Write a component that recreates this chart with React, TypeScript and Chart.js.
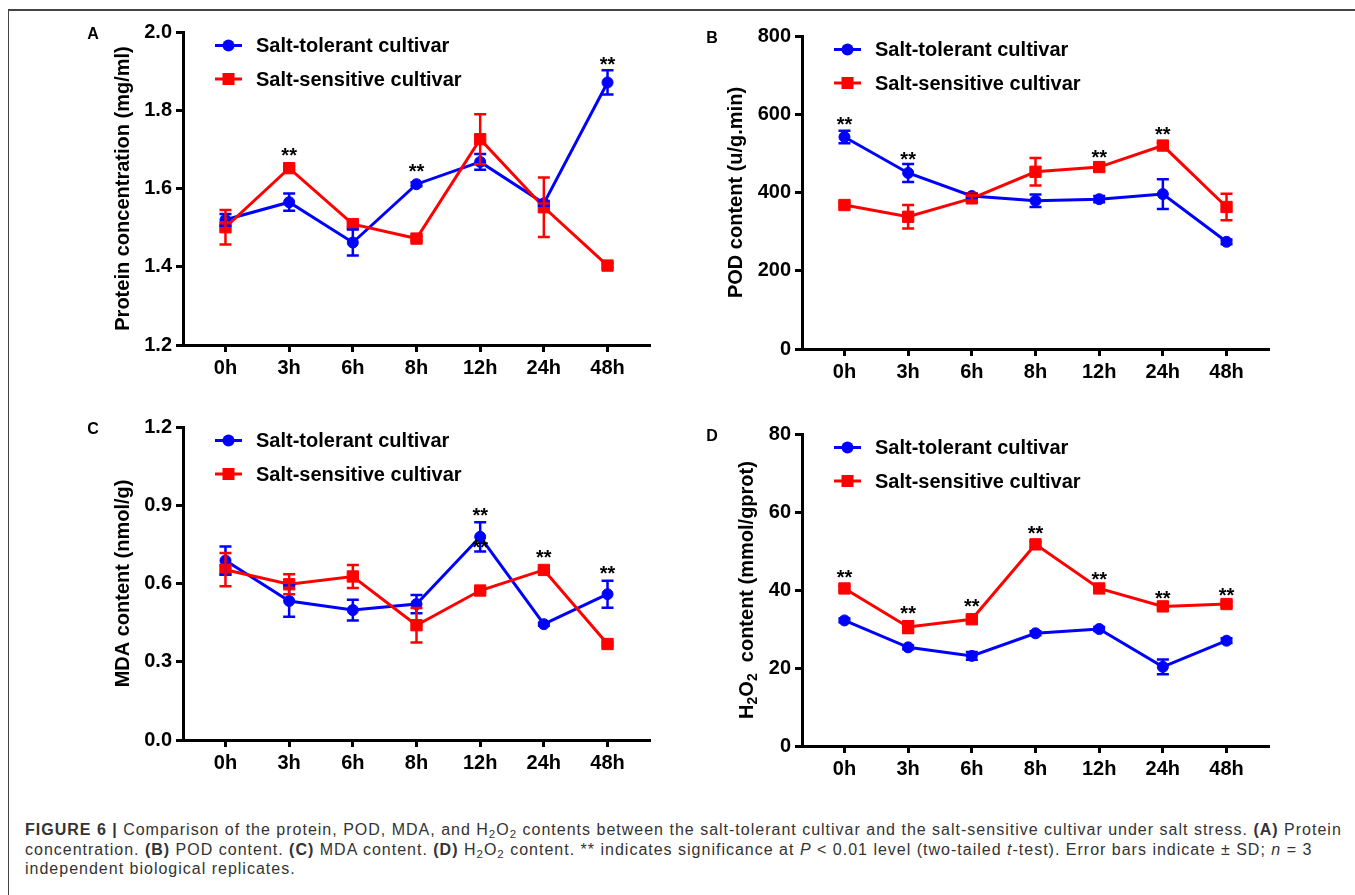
import React, { useEffect, useRef } from 'react';
import { Chart, registerables } from 'chart.js';

Chart.register(...registerables);

// ---------- data ----------
const timeLabels = ['0h', '3h', '6h', '8h', '12h', '24h', '48h'];
const seriesNames = ['Salt-tolerant cultivar', 'Salt-sensitive cultivar'];

// (A) Protein concentration (mg/ml)
const proteinTolerant = [1.52, 1.565, 1.462, 1.611, 1.668, 1.562, 1.871];
const proteinTolerantSD = [0.015, 0.022, 0.033, 0.005, 0.02, 0.006, 0.031];
const proteinSensitive = [1.501, 1.652, 1.509, 1.472, 1.726, 1.552, 1.403];
const proteinSensitiveSD = [0.044, 0.005, 0.006, 0.005, 0.064, 0.076, 0.005];
const proteinTicks = [1.2, 1.4, 1.6, 1.8, 2.0];
const proteinStars = [{ i: 1, y: 1.697 }, { i: 3, y: 1.657 }, { i: 6, y: 1.929 }];

// (B) POD content (u/g.min)
const podTolerant = [542, 450, 391, 379, 383, 396, 274];
const podTolerantSD = [16, 23, 5, 16, 8, 38, 6];
const podSensitive = [368, 338, 385, 453, 465, 520, 363];
const podSensitiveSD = [5, 30, 8, 35, 10, 7, 34];
const podTicks = [0, 200, 400, 600, 800];
const podStars = [{ i: 0, y: 587 }, { i: 1, y: 497 }, { i: 4, y: 503 }, { i: 5, y: 561 }];

// (C) MDA content (nmol/g)
const mdaTolerant = [0.688, 0.533, 0.498, 0.521, 0.779, 0.444, 0.559];
const mdaTolerantSD = [0.054, 0.06, 0.04, 0.035, 0.056, 0.006, 0.052];
const mdaSensitive = [0.653, 0.597, 0.627, 0.44, 0.573, 0.652, 0.368];
const mdaSensitiveSD = [0.064, 0.038, 0.044, 0.066, 0.006, 0.006, 0.006];
const mdaTicks = [0.0, 0.3, 0.6, 0.9, 1.2];
const mdaStars = [{ i: 4, y: 0.878 }, { i: 4, y: 0.756 }, { i: 5, y: 0.717 }, { i: 6, y: 0.659 }];

// (D) H2O2 content (mmol/gprot)
const h2o2Tolerant = [32.2, 25.3, 23.1, 28.9, 30.0, 20.3, 27.0];
const h2o2TolerantSD = [0.5, 0.5, 1.0, 0.5, 0.5, 1.9, 0.6];
const h2o2Sensitive = [40.4, 30.5, 32.5, 51.7, 40.4, 35.8, 36.4];
const h2o2SensitiveSD = [0.6, 1.5, 0.8, 0.7, 0.6, 0.6, 0.6];
const h2o2Ticks = [0, 20, 40, 60, 80];
const h2o2Stars = [
  { i: 0, y: 44.6 }, { i: 1, y: 35.2 }, { i: 2, y: 37.1 }, { i: 3, y: 55.7 },
  { i: 4, y: 44.1 }, { i: 5, y: 39.2 }, { i: 6, y: 39.9 },
];

// ---------- styles ----------
const BLUE = '#0000ff';
const RED = '#ff0000';
const FONT = '"Liberation Sans", Arial, Helvetica, sans-serif';

type Seg = { t: string; sub?: boolean };

type Panel = {
  letter: string;
  canvas: [number, number, number, number];
  area: [number, number, number, number];
  tol: number[];
  tolSD: number[];
  sen: number[];
  senSD: number[];
  ticks: number[];
  decimals: number;
  stars: { i: number; y: number }[];
  title: Seg[];
};

const panels: Panel[] = [
  {
    letter: 'A', canvas: [60, 0, 620, 400], area: [183, 32, 650, 345],
    tol: proteinTolerant, tolSD: proteinTolerantSD, sen: proteinSensitive, senSD: proteinSensitiveSD,
    ticks: proteinTicks, decimals: 1, stars: proteinStars,
    title: [{ t: 'Protein concentration (mg/ml)' }],
  },
  {
    letter: 'B', canvas: [680, 0, 620, 400], area: [802, 36, 1269, 349],
    tol: podTolerant, tolSD: podTolerantSD, sen: podSensitive, senSD: podSensitiveSD,
    ticks: podTicks, decimals: 0, stars: podStars,
    title: [{ t: 'POD content (u/g.min)' }],
  },
  {
    letter: 'C', canvas: [60, 400, 620, 420], area: [183, 427, 650, 740],
    tol: mdaTolerant, tolSD: mdaTolerantSD, sen: mdaSensitive, senSD: mdaSensitiveSD,
    ticks: mdaTicks, decimals: 1, stars: mdaStars,
    title: [{ t: 'MDA content (nmol/g)' }],
  },
  {
    letter: 'D', canvas: [680, 400, 620, 420], area: [802, 434, 1269, 746],
    tol: h2o2Tolerant, tolSD: h2o2TolerantSD, sen: h2o2Sensitive, senSD: h2o2SensitiveSD,
    ticks: h2o2Ticks, decimals: 0, stars: h2o2Stars,
    title: [{ t: 'H' }, { t: '2', sub: true }, { t: 'O' }, { t: '2', sub: true }, { t: '  content (mmol/gprot)' }],
  },
];

const decorPlugin = {
  id: 'decor',
  afterDatasetsDraw(chart: any, _args: any, opts: any) {
    const { ctx, scales } = chart;
    const x = scales.x;
    const y = scales.y;
    (opts.errors || []).forEach((errs: number[], di: number) => {
      const ds = chart.data.datasets[di];
      ctx.save();
      ctx.strokeStyle = ds.borderColor;
      ctx.lineWidth = 2.5;
      ds.data.forEach((p: any, i: number) => {
        const e = errs[i];
        const px = x.getPixelForValue(p.x);
        const yt = y.getPixelForValue(p.y + e);
        const yb = y.getPixelForValue(p.y - e);
        ctx.beginPath();
        ctx.moveTo(px, yt);
        ctx.lineTo(px, yb);
        ctx.moveTo(px - 6, yt);
        ctx.lineTo(px + 6, yt);
        ctx.moveTo(px - 6, yb);
        ctx.lineTo(px + 6, yb);
        ctx.stroke();
      });
      ctx.restore();
    });
  },
  afterDraw(chart: any, _args: any, opts: any) {
    const { ctx, chartArea, scales } = chart;
    const x = scales.x;
    const y = scales.y;
    ctx.save();
    // significance stars
    ctx.fillStyle = '#000';
    ctx.font = `bold 20px ${FONT}`;
    ctx.textAlign = 'center';
    ctx.textBaseline = 'alphabetic';
    (opts.stars || []).forEach((s: any) => {
      ctx.fillText('**', x.getPixelForValue(s.i), y.getPixelForValue(s.y) + 11.5);
    });
    // legend (GraphPad style: line + marker)
    const rows = [chartArea.top + 13.5, chartArea.top + 47];
    chart.data.datasets.forEach((ds: any, di: number) => {
      const ry = rows[di];
      const x0 = chartArea.left + 32;
      const x1 = chartArea.left + 59;
      ctx.strokeStyle = ds.borderColor;
      ctx.lineWidth = 3;
      ctx.beginPath();
      ctx.moveTo(x0, ry);
      ctx.lineTo(x1, ry);
      ctx.stroke();
      ctx.fillStyle = ds.borderColor;
      const cx = (x0 + x1) / 2;
      if (ds.pointStyle === 'rect') {
        ctx.fillRect(cx - 6, ry - 6, 12, 12);
      } else {
        ctx.beginPath();
        ctx.arc(cx, ry, 6, 0, Math.PI * 2);
        ctx.fill();
      }
      ctx.fillStyle = '#000';
      ctx.font = `bold 20px ${FONT}`;
      ctx.textAlign = 'left';
      ctx.textBaseline = 'middle';
      ctx.fillText(ds.label, chartArea.left + 73, ry + 1);
    });
    // y-axis title
    ctx.font = `bold 20px ${FONT}`;
    let maxW = 0;
    y.ticks.forEach((t: any) => {
      maxW = Math.max(maxW, ctx.measureText(String(t.label)).width);
    });
    const tcx = chartArea.left - 11 - maxW - 21;
    const tcy = (chartArea.top + chartArea.bottom) / 2;
    const segs: Seg[] = opts.title || [];
    const fontFor = (s: Seg) => (s.sub ? `bold 14px ${FONT}` : `bold 20px ${FONT}`);
    let total = 0;
    segs.forEach((s) => {
      ctx.font = fontFor(s);
      total += ctx.measureText(s.t).width;
    });
    ctx.translate(tcx, tcy);
    ctx.rotate(-Math.PI / 2);
    ctx.fillStyle = '#000';
    ctx.textAlign = 'left';
    ctx.textBaseline = 'middle';
    let cur = -total / 2;
    segs.forEach((s) => {
      ctx.font = fontFor(s);
      ctx.fillText(s.t, cur, s.sub ? 5 : 0);
      cur += ctx.measureText(s.t).width;
    });
    ctx.setTransform(1, 0, 0, 1, 0, 0);
    // panel letter
    ctx.fillStyle = '#000';
    ctx.font = `bold 16px ${FONT}`;
    ctx.textAlign = 'center';
    ctx.textBaseline = 'middle';
    ctx.fillText(opts.letter, chartArea.left - 90, chartArea.top + 3);
    ctx.restore();
  },
};

function makeConfig(p: Panel): any {
  const [cl, ct, cw, ch] = p.canvas;
  const [al, at, ar, ab] = p.area;
  const axisGrid = {
    display: true,
    drawOnChartArea: false,
    drawTicks: true,
    tickLength: 7,
    tickWidth: 3,
    tickColor: '#000',
  };
  const axisBorder = { display: true, width: 3, color: '#000' };
  const tickFont = { family: FONT, weight: 'bold', size: 20 };
  return {
    type: 'line',
    data: {
      datasets: [
        {
          label: seriesNames[0],
          data: p.tol.map((v, i) => ({ x: i, y: v })),
          borderColor: BLUE,
          backgroundColor: BLUE,
          pointBackgroundColor: BLUE,
          pointBorderColor: BLUE,
          pointStyle: 'circle',
          pointRadius: 5.5,
          pointBorderWidth: 1,
          borderWidth: 3,
          tension: 0,
          order: 1,
        },
        {
          label: seriesNames[1],
          data: p.sen.map((v, i) => ({ x: i, y: v })),
          borderColor: RED,
          backgroundColor: RED,
          pointBackgroundColor: RED,
          pointBorderColor: RED,
          pointStyle: 'rect',
          pointRadius: 8,
          pointBorderWidth: 1,
          borderWidth: 3,
          tension: 0,
          order: 0,
        },
      ],
    },
    options: {
      responsive: false,
      animation: false,
      events: [],
      layout: { padding: { left: 0, top: at - ct, right: cl + cw - ar, bottom: 0 } },
      plugins: {
        legend: { display: false },
        tooltip: { enabled: false },
        decor: {
          errors: [p.tolSD, p.senSD],
          stars: p.stars,
          title: p.title,
          letter: p.letter,
        },
      },
      scales: {
        x: {
          type: 'linear',
          min: -0.667,
          max: 6.667,
          afterBuildTicks: (s: any) => {
            s.ticks = timeLabels.map((_, i) => ({ value: i }));
          },
          afterFit: (s: any) => {
            s.height = ct + ch - ab;
          },
          ticks: {
            autoSkip: false,
            maxRotation: 0,
            padding: 4,
            color: '#000',
            font: tickFont,
            callback: (v: any) => timeLabels[v] ?? '',
          },
          grid: axisGrid,
          border: axisBorder,
        },
        y: {
          type: 'linear',
          min: p.ticks[0],
          max: p.ticks[p.ticks.length - 1],
          afterBuildTicks: (s: any) => {
            s.ticks = p.ticks.map((v) => ({ value: v }));
          },
          afterFit: (s: any) => {
            s.width = al - cl;
          },
          ticks: {
            padding: 4,
            color: '#000',
            font: tickFont,
            callback: (v: any) => Number(v).toFixed(p.decimals),
          },
          grid: axisGrid,
          border: axisBorder,
        },
      },
    },
    plugins: [decorPlugin],
  };
}

function PanelChart({ p }: { p: Panel }) {
  const ref = useRef<HTMLCanvasElement | null>(null);
  useEffect(() => {
    if (!ref.current) return;
    const chart = new Chart(ref.current, makeConfig(p));
    return () => chart.destroy();
  }, [p]);
  const [cl, ct, cw, ch] = p.canvas;
  return (
    <canvas
      ref={ref}
      width={cw}
      height={ch}
      style={{ position: 'absolute', left: cl, top: ct, width: cw, height: ch }}
    />
  );
}

const subStyle: React.CSSProperties = {
  fontSize: '0.72em',
  verticalAlign: 'baseline',
  position: 'relative',
  top: '0.3em',
};

export default function App() {
  return (
    <div
      style={{
        position: 'absolute',
        left: 0,
        top: 0,
        width: 1355,
        height: 895,
        background: '#fff',
        overflow: 'hidden',
        fontFamily: FONT,
      }}
    >
      <div
        style={{
          position: 'absolute',
          left: 8,
          top: 9,
          width: 1347,
          height: 886,
          borderTop: '2px solid #444',
          borderLeft: '1.5px solid #444',
        }}
      />
      {panels.map((p) => (
        <PanelChart key={p.letter} p={p} />
      ))}
      <div
        style={{
          position: 'absolute',
          left: 25,
          top: 821,
          fontSize: 16,
          letterSpacing: '1px',
          lineHeight: '18.5px',
          color: '#333',
          whiteSpace: 'nowrap',
        }}
      >
        <b>FIGURE 6 |</b> Comparison of the protein, POD, MDA, and H<sub style={subStyle}>2</sub>O
        <sub style={subStyle}>2</sub> contents between the salt-tolerant cultivar and the salt-sensitive cultivar under
        salt stress. <b>(A)</b> Protein
        <br />
        concentration. <b>(B)</b> POD content. <b>(C)</b> MDA content. <b>(D)</b> H<sub style={subStyle}>2</sub>O
        <sub style={subStyle}>2</sub> content. ** indicates significance at <i>P</i> &lt; 0.01 level (two-tailed{' '}
        <i>t</i>-test). Error bars indicate ± SD; <i>n</i> = 3
        <br />
        independent biological replicates.
      </div>
    </div>
  );
}
